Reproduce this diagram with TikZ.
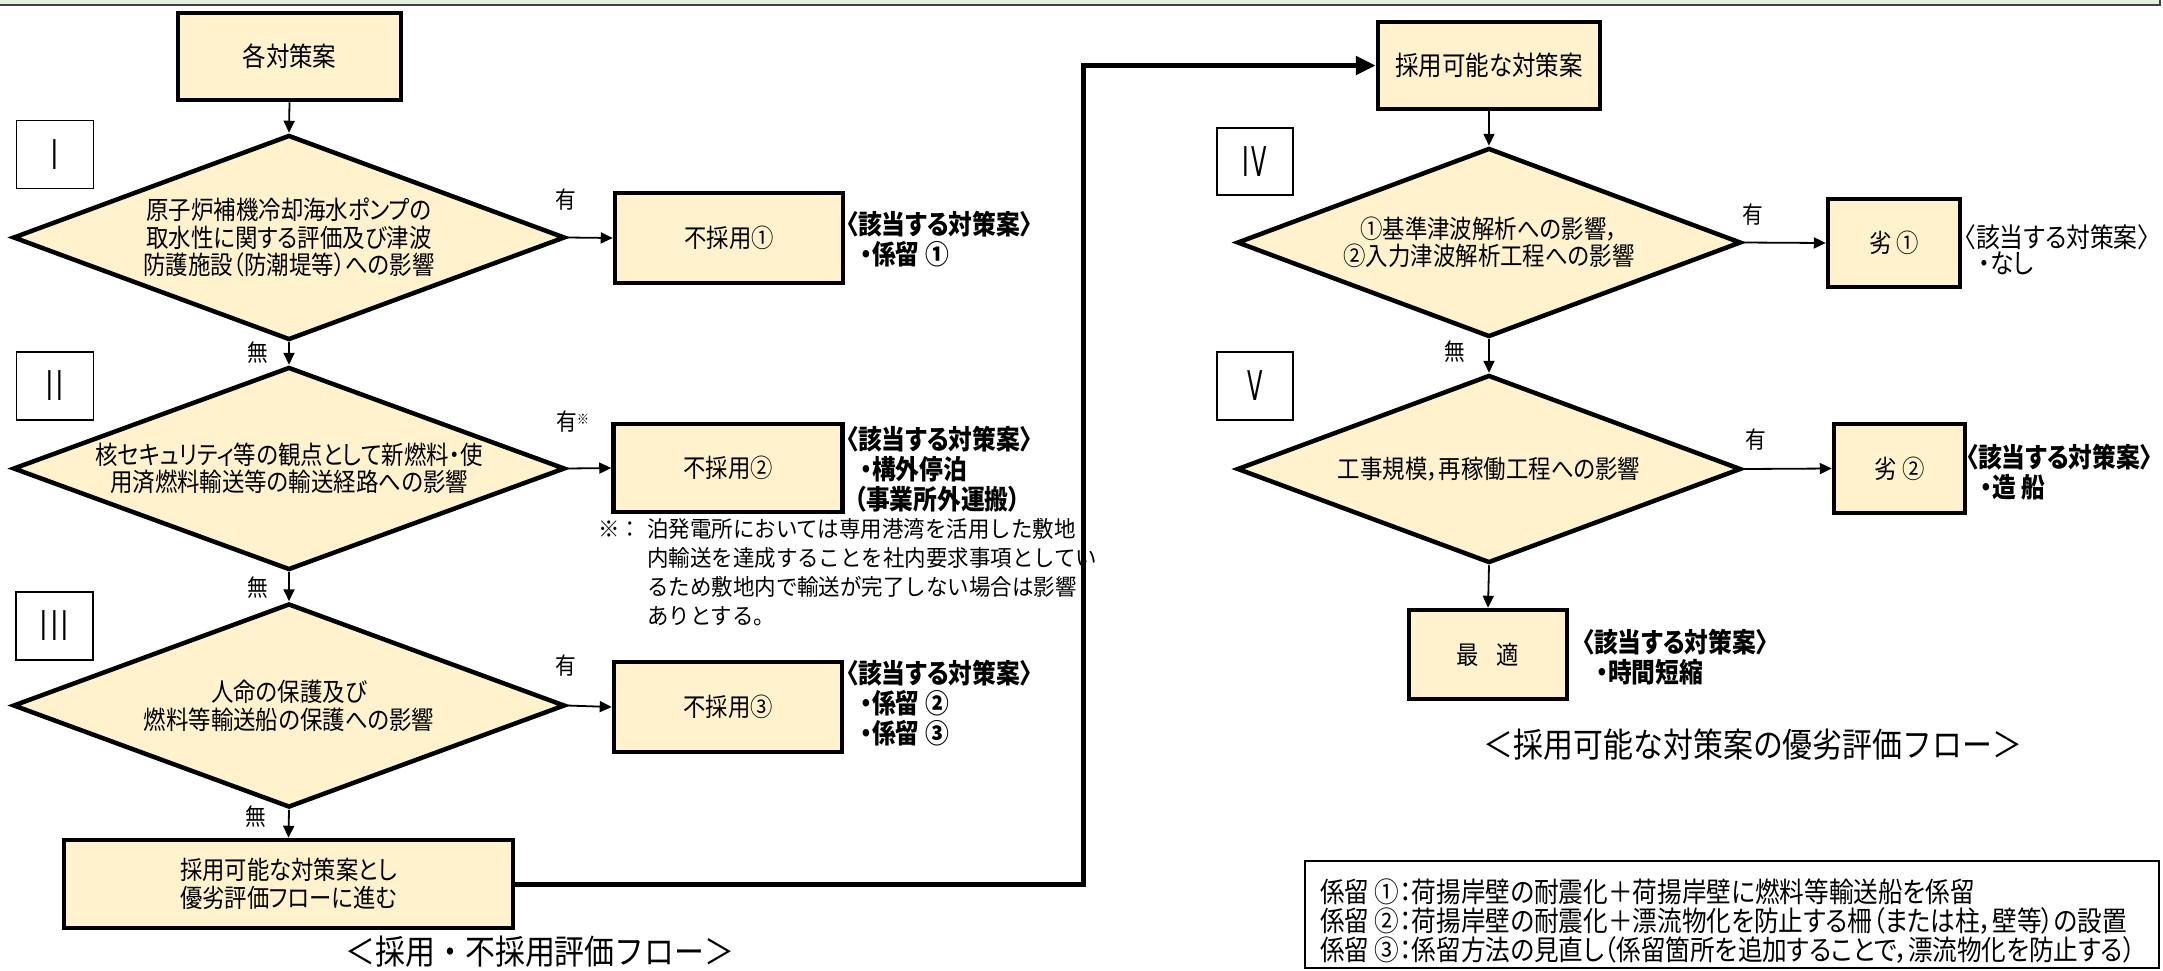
\documentclass[tikz,border=0pt]{standalone}
\usepackage{fontspec}
\usetikzlibrary{shapes.geometric,arrows.meta}
\newfontfamily\jp[RawFeature=+palt,FakeStretch=0.88]{Noto Sans CJK JP}
\newfontfamily\jpm[FakeStretch=0.88]{Noto Sans CJK JP}
\newfontfamily\jpn[FakeStretch=0.95]{Noto Sans CJK JP}
\newfontfamily\romfont[FakeStretch=0.55]{DejaVu Sans}
\definecolor{boxfill}{HTML}{FFF2CC}
\definecolor{stripfill}{HTML}{E2EFDA}
\definecolor{stripline}{HTML}{404040}
\begin{document}
\begin{tikzpicture}[x=1pt,y=-1pt,
  box/.style={draw, line width=4.5pt, fill=boxfill, inner sep=0pt, align=center,
    font=\jp\fontsize{25.4}{27.5}\selectfont},
  topbox/.style={box, font=\jp\fontsize{26.7}{28}\selectfont},
  dia/.style={draw, diamond, line width=4.5pt, fill=boxfill, inner sep=0pt},
  dtext/.style={inner sep=0pt, align=center, font=\jp\fontsize{25.5}{27.6}\selectfont},
  numbox/.style={draw, line width=1.3pt, inner sep=0pt, minimum width=77pt, minimum height=68pt,
    font=\romfont\fontsize{41}{41}\selectfont},
  lbl/.style={inner sep=0pt, font=\jp\fontsize{23.5}{23.5}\selectfont},
  cand/.style={inner sep=0pt, anchor=west, align=left, font=\jp\bfseries\fontsize{27}{30}\selectfont},
  candr/.style={inner sep=0pt, anchor=west, align=left, font=\jp\fontsize{27}{26}\selectfont},
  notetext/.style={inner sep=0pt, anchor=north west, align=left, font=\jpn\fontsize{22.6}{29}\selectfont},
  legtext/.style={inner sep=0pt, anchor=west, align=left, font=\jp\fontsize{28}{29}\selectfont},
  captext/.style={inner sep=0pt, font=\jpm\fontsize{34}{34}\selectfont},
  arr/.style={-{Triangle[length=12pt,width=11pt]}, line width=1.8pt},
  thickarr/.style={-{Triangle[length=20pt,width=18pt]}, line width=5pt}
]
\useasboundingbox (0,0) rectangle (2163,970);
% top strip
\fill[stripfill] (-10,-10) rectangle (2160,5);
\draw[stripline, line width=1.5pt] (-10,5) -- (2160,5) -- (2160,-10);

% ---------- left flow ----------
\node[topbox, minimum width=223pt, minimum height=87pt] (start) at (289.5,56.5) {各対策案};
\node[numbox] (n1) at (55,154.5) {I};
\node[dia, minimum width=552pt, minimum height=205pt] (d1) at (289,237.5) {};
\node[dtext] (d1t) at (d1.center) {原子炉補機冷却海水ポンプの\\取水性に関する評価及び津波\\防護施設（防潮堤等）への影響};
\node[lbl] (y1) at (566,200) {有};
\node[box, minimum width=228pt, minimum height=90pt] (r1) at (729,238) {不採用①};
\node[cand] (c1) at (846,239) {〈該当する対策案〉\\\hspace*{14pt}・係留 ①};
\node[lbl] (m1) at (258,353) {無};

\node[numbox] (n2) at (55,386) {I\hspace{4pt}I};
\node[dia, minimum width=552pt, minimum height=203pt] (d2) at (289,468.5) {};
\node[dtext] (d2t) at (d2.center) {核セキュリティ等の観点として新燃料・使\\用済燃料輸送等の輸送経路への影響};
\node[lbl, anchor=west] (y2) at (556,422) {有\raisebox{6pt}{\fontsize{14}{14}\selectfont ※}};
\node[box, minimum width=229pt, minimum height=88pt] (r2) at (728,468) {不採用②};
\node[cand] (c2) at (846,469) {〈該当する対策案〉\\\hspace*{14pt}・構外停泊\\\hspace*{8pt}（事業所外運搬）};
\node[notetext] (note) at (598,518) {\makebox[49pt][l]{※：}泊発電所においては専用港湾を活用した敷地\\\hspace*{49pt}内輸送を達成することを社内要求事項としてい\\\hspace*{49pt}るため敷地内で輸送が完了しない場合は影響\\\hspace*{49pt}ありとする。};
\node[lbl] (m2) at (258,588) {無};

\node[numbox] (n3) at (54.5,626) {I\hspace{4pt}I\hspace{4pt}I};
\node[dia, minimum width=552pt, minimum height=204pt] (d3) at (289,705.5) {};
\node[dtext] (d3t) at (d3.center) {人命の保護及び\\燃料等輸送船の保護への影響};
\node[lbl] (y3) at (566,666) {有};
\node[box, minimum width=228pt, minimum height=90pt] (r3) at (728,707) {不採用③};
\node[cand] (c3) at (846,703) {〈該当する対策案〉\\\hspace*{14pt}・係留 ②\\\hspace*{14pt}・係留 ③};
\node[lbl] (m3) at (256,817) {無};

\node[box, minimum width=449pt, minimum height=88pt] (adopt) at (288.5,884) {採用可能な対策案とし\\優劣評価フローに進む};
\node[captext] (cap1) at (540,952) {＜採用・不採用評価フロー＞};

% ---------- right flow ----------
\node[topbox, minimum width=222pt, minimum height=87pt] (top2) at (1489,65.5) {採用可能な対策案};
\node[numbox, minimum width=76pt, minimum height=67pt] (n4) at (1255,161.5) {I\hspace{2pt}V};
\node[dia, minimum width=504pt, minimum height=189pt] (d4) at (1489,242.5) {};
\node[dtext] (d4t) at (d4.center) {①基準津波解析への影響，\\②入力津波解析工程への影響};
\node[lbl] (y4) at (1753,215) {有};
\node[box, minimum width=132pt, minimum height=88pt] (w1) at (1894,243) {劣 ①};
\node[candr] (c4) at (1964,250) {〈該当する対策案〉\\\hspace*{14pt}・なし};
\node[lbl] (m4) at (1455,352) {無};

\node[numbox, minimum width=76pt, minimum height=68pt] (n5) at (1255,386) {V};
\node[dia, minimum width=504pt, minimum height=188pt] (d5) at (1489,469) {};
\node[dtext] (d5t) at (d5.center) {工事規模，再稼働工程への影響};
\node[lbl] (y5) at (1756,440) {有};
\node[box, minimum width=131pt, minimum height=89pt] (w2) at (1899.5,468.5) {劣 ②};
\node[cand] (c5) at (1966,472) {〈該当する対策案〉\\\hspace*{14pt}・造 船};
\node[box, minimum width=158pt, minimum height=89pt] (best) at (1488,654.5) {最\hspace{0.7em}適};
\node[cand] (c6) at (1582,657) {〈該当する対策案〉\\\hspace*{14pt}・時間短縮};
\node[captext] (cap2) at (1753,745) {＜採用可能な対策案の優劣評価フロー＞};

% legend
\node[draw, line width=1.3pt, inner sep=0pt, minimum width=854pt, minimum height=107pt] (legend) at (1732,914.5) {};
\node[legtext] (legendtext) at (1320,921) {係留 ①：荷揚岸壁の耐震化＋荷揚岸壁に燃料等輸送船を係留\\係留 ②：荷揚岸壁の耐震化＋漂流物化を防止する柵（または柱，壁等）の設置\\係留 ③：係留方法の見直し（係留箇所を追加することで，漂流物化を防止する）};

% ---------- connectors ----------
\draw[arr] (start.south) -- (d1.north);
\draw[arr] (d1.east) -- (r1.west);
\draw[arr] (d1.south) -- (d2.north);
\draw[arr] (d2.east) -- (r2.west);
\draw[arr] (d2.south) -- (d3.north);
\draw[arr] (d3.east) -- (r3.west);
\draw[arr] (d3.south) -- (adopt.north);
\coordinate (bend) at (1083,884);
\draw[thickarr] (adopt.east) -- (bend) |- (top2.west);
\draw[arr] (top2.south) -- (d4.north);
\draw[arr] (d4.east) -- (w1.west);
\draw[arr] (d4.south) -- (d5.north);
\draw[arr] (d5.east) -- (w2.west);
\draw[arr] (d5.south) -- (best.north);
\end{tikzpicture}
\end{document}
